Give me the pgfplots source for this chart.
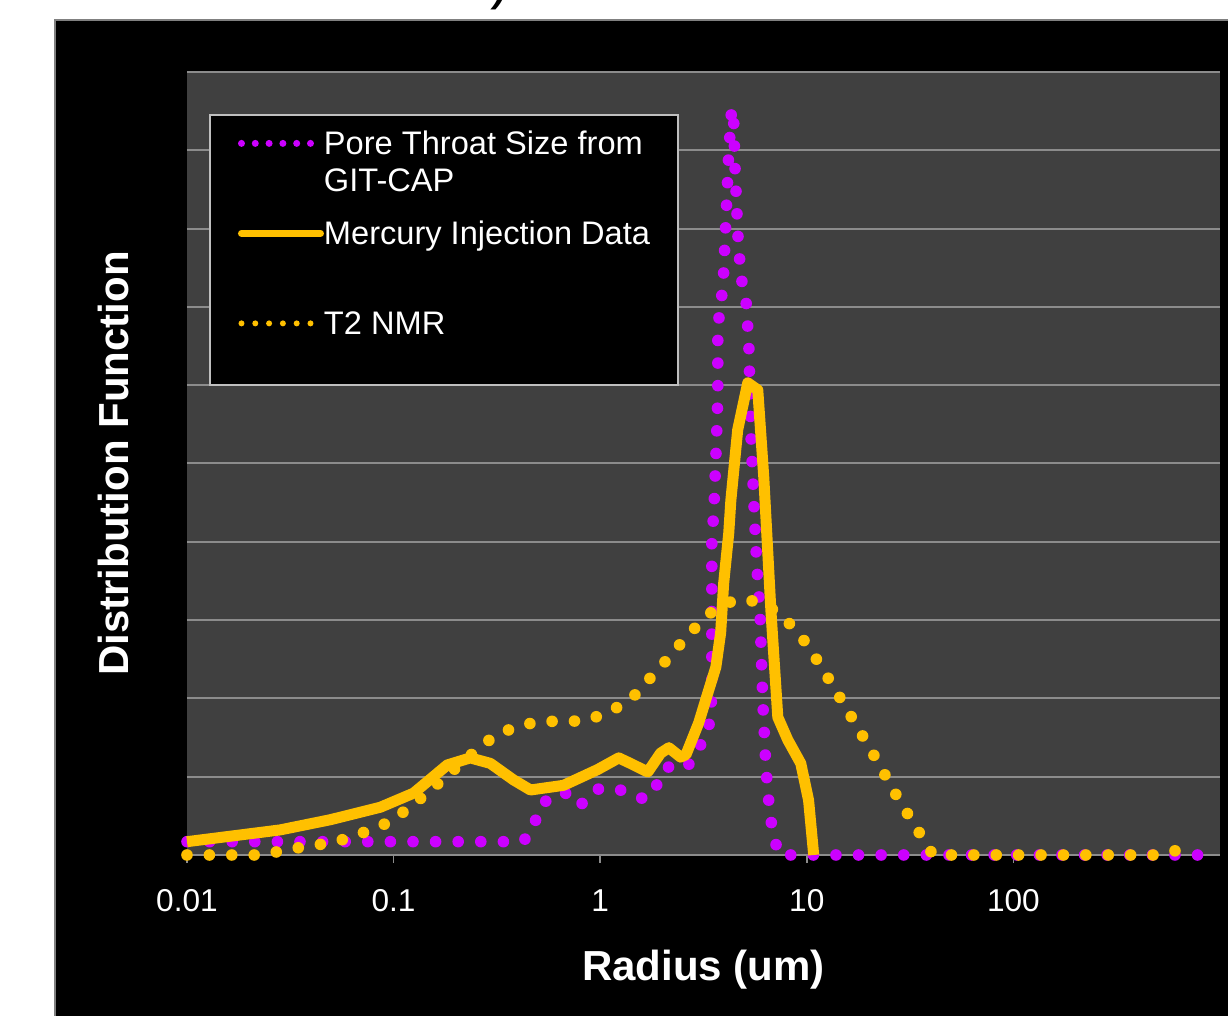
\documentclass[border=0pt]{standalone}
\usepackage{pgfplots}
\pgfplotsset{compat=1.18}
\usepackage{fontspec}
\setmainfont{Liberation Sans}

\definecolor{ptmag}{HTML}{CC00FF}
\definecolor{hgold}{HTML}{FFC000}
\definecolor{plotbg}{HTML}{404040}
\definecolor{gridgray}{HTML}{8C8C8C}
\definecolor{boxgray}{HTML}{BFBFBF}

\begin{document}
\begin{tikzpicture}
\useasboundingbox (0,0) rectangle (614pt,508pt);
\fill[white] (0,0) rectangle (614pt,508pt);
\node[anchor=base, inner sep=0pt, font=\fontsize{30}{30}\selectfont] at (250pt,509pt) {)};
\filldraw[fill=black, draw=gray, line width=0.6pt] (27.5pt,-2pt) rectangle (616pt,498pt);

\begin{axis}[
    at={(93.5pt,80.5pt)}, anchor=south west,
    scale only axis, width=516.5pt, height=391.5pt,
    xmode=log, xmin=0.01, xmax=1000, ymin=0, ymax=10,
    clip=false,
    axis background/.style={fill=plotbg},
    axis x line*=bottom, axis y line*=left,
    x axis line style={draw=gridgray, line width=1pt},
    y axis line style={draw=none},
    xtick={0.01,0.1,1,10,100}, xticklabels={0.01,0.1,1,10,100},
    xminorticks=false,
    ytick={1,2,...,10}, yticklabels={},
    ymajorgrids, grid style={draw=gridgray, line width=1pt},
    tick align=outside, major tick length=4pt,
    xtick style={draw=gridgray, line width=0.8pt},
    ytick style={draw=none},
    xticklabel style={text=white, inner sep=0pt, anchor=north,
        font=\fontsize{15.8}{18}\selectfont},
    xticklabel shift=13pt,
    xlabel={Radius (um)}, ylabel={Distribution Function},
    every axis x label/.style={at={(axis description cs:0.5,0)}, anchor=center,
        yshift=-57.5pt, text=white, font=\bfseries\fontsize{21}{24}\selectfont},
    every axis y label/.style={at={(axis description cs:0,0.5)}, anchor=center,
        xshift=-37pt, rotate=90, text=white, font=\bfseries\fontsize{21}{24}\selectfont},
    legend style={at={(axis description cs:0,1)}, anchor=north west,
        xshift=11.5pt, yshift=-21.5pt, fill=black, draw=boxgray, line width=1pt,
        text=white, font=\fontsize{16.3}{18.5}\selectfont,
        inner xsep=14pt, inner ysep=3pt, row sep=6pt, column sep=0pt,
        outer sep=0pt,
        nodes={inner sep=0pt, text height=17pt, text depth=22pt},
        cells={anchor=base west}},
    legend image code/.code={\draw[#1] (0pt,5.8pt) -- (39.5pt,5.8pt);},
]

% Pore throat size from GIT-CAP
\addplot[ptmag, line width=5.8pt, line cap=round, line join=round,
    dash pattern=on 0pt off 11.3pt,
    legend image post style={line width=3.5pt, dash pattern=on 0pt off 6.9pt}]
coordinates {
(0.01,0.17) (0.42,0.17) (0.475,0.31) (0.50,0.59) (0.587,0.77) (0.695,0.79)
(0.80,0.63) (0.93,0.83) (1.07,0.86) (1.31,0.82) (1.61,0.72) (1.82,0.78)
(1.96,1.05) (2.27,1.17) (2.66,1.14) (3.32,1.56) (3.44,1.84) (3.47,2.13)
(3.47,4.0) (3.55,4.41) (3.62,4.98) (3.71,5.84) (3.71,6.69) (3.79,6.97)
(3.93,7.25) (4.06,8.11) (4.19,8.97) (4.33,9.54) (4.43,9.35) (4.49,8.79)
(4.64,7.92) (4.80,7.38) (5.07,7.11) (5.24,6.54) (5.36,5.40) (5.54,4.51)
(5.73,3.68) (5.93,3.13) (6.12,1.98) (6.34,1.12) (6.47,0.84) (6.62,0.55)
(6.85,0.28) (7.33,0) (1000,0)
};
\addlegendentry{{\begin{tabular}[t]{@{}l@{}}Pore Throat Size from\\GIT-CAP\end{tabular}}}

% Mercury injection
\addplot[hgold, line width=5.5pt, line join=round,
    legend image post style={line width=3.5pt, line cap=round}]
coordinates {
(0.01,0.17) (0.0282,0.32) (0.0493,0.45) (0.0863,0.61) (0.125,0.79)
(0.182,1.15) (0.235,1.24) (0.294,1.17) (0.38,0.96) (0.46,0.83) (0.665,0.89)
(0.97,1.09) (1.23,1.24) (1.40,1.17) (1.70,1.06) (1.96,1.30) (2.15,1.37)
(2.45,1.25) (2.60,1.28) (3.00,1.69) (3.32,2.07) (3.63,2.40) (3.83,2.84)
(3.96,3.47) (4.19,4.11) (4.29,4.53) (4.63,5.43) (5.18,6.03) (5.79,5.94)
(6.19,4.83) (6.70,3.13) (7.24,1.76) (8.09,1.47) (9.35,1.17) (10.2,0.70)
(10.8,0)
};
\addlegendentry{Mercury Injection Data}

% T2 NMR
\addplot[hgold, line width=5.8pt, line cap=round, line join=round,
    dash pattern=on 0pt off 11.2pt,
    legend image post style={line width=3pt, dash pattern=on 0pt off 6.9pt}]
coordinates {
(0.01,0) (0.0231,0) (0.0295,0.06) (0.0378,0.11) (0.0483,0.15) (0.0616,0.22)
(0.077,0.32) (0.0974,0.43) (0.118,0.60) (0.144,0.78) (0.174,0.97) (0.208,1.15)
(0.255,1.35) (0.308,1.52) (0.385,1.63) (0.492,1.70) (0.628,1.71) (0.813,1.71)
(1.03,1.79) (1.28,1.92) (1.55,2.09) (1.82,2.32) (2.17,2.53) (2.54,2.75)
(3.00,2.95) (3.62,3.15) (4.53,3.26) (5.79,3.24) (7.24,3.10) (8.65,2.90)
(10.1,2.68) (13.1,2.20) (16.9,1.71) (21.6,1.23) (27.7,0.72) (36.1,0.23)
(40.8,0) (492,0) (622,0.06)
};
\addlegendentry{T2 NMR}

\end{axis}
\end{tikzpicture}
\end{document}
